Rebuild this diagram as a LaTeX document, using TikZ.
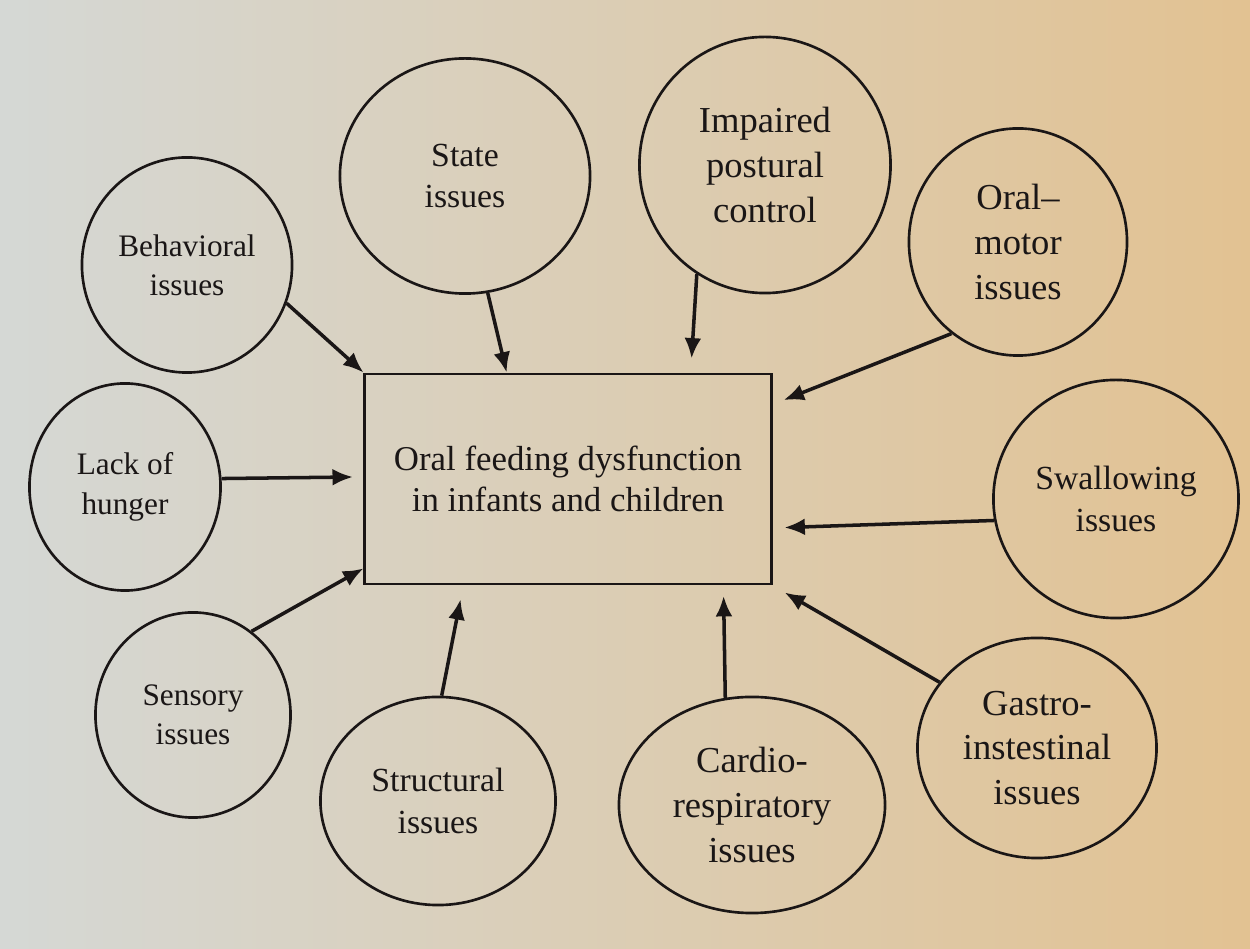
\documentclass[tikz,border=0pt]{standalone}
\usepackage{fontspec}
\setmainfont{Liberation Serif}
\usepackage{tikz}
\usetikzlibrary{arrows.meta}
\usetikzlibrary{shapes.geometric}
\usetikzlibrary{calc}

\definecolor{paperl}{RGB}{213,216,213}
\definecolor{paperm}{RGB}{221,217,206}
\definecolor{paperr}{RGB}{226,194,146}
\definecolor{ink}{RGB}{26,22,22}

\tikzset{
  issue/.style={draw=ink, ellipse, line width=0.75pt, inner sep=0pt, align=center,
    text=ink, font=\fontsize{9.6}{11.8}\selectfont},
  farside/.style={font=\fontsize{8.9}{11.2}\selectfont},
  nearside/.style={font=\fontsize{10.4}{12.7}\selectfont},
  dysbox/.style={draw=ink, line width=0.8pt, minimum width=4.06cm, minimum height=2.10cm,
    align=center, text=ink, font=\fontsize{9.9}{11.6}\selectfont},
  cause/.style={-{Latex[length=5.8pt,width=4.8pt]}, draw=ink, line width=1pt}
}

\begin{document}
\begin{tikzpicture}[x=0.01cm, y=-0.01cm]
    \shade[left color=paperl, middle color=paperm, right color=paperr] (0,0) rectangle (1250,949);
    \node[dysbox] (dys) at (568,479) {Oral feeding dysfunction\\in infants and children};
    \node[issue, farside, minimum width=2.10cm, minimum height=2.15cm] (beh) at (187,265) {Behavioral\\issues};
    \node[issue, minimum width=2.50cm, minimum height=2.35cm] (state) at (465,176) {State\\issues};
    \node[issue, nearside, minimum width=2.51cm, minimum height=2.56cm] (imp) at (765,165) {Impaired\\postural\\control};
    \node[issue, nearside, minimum width=2.18cm, minimum height=2.27cm] (oral) at (1018,242) {Oral--\\motor\\issues};
    \node[issue, minimum width=2.45cm, minimum height=2.38cm] (swal) at (1116,499) {Swallowing\\issues};
    \node[issue, farside, minimum width=1.91cm, minimum height=2.07cm] (lack) at (125,487) {Lack of\\hunger};
    \node[issue, farside, minimum width=1.95cm, minimum height=2.05cm] (sens) at (193,715) {Sensory\\issues};
    \node[issue, minimum width=2.35cm, minimum height=2.08cm] (struc) at (438,801) {Structural\\issues};
    \node[issue, nearside, minimum width=2.66cm, minimum height=2.16cm] (cardio) at (752,805) {Cardio-\\respiratory\\issues};
    \node[issue, nearside, minimum width=2.39cm, minimum height=2.20cm] (gastro) at (1037,748) {Gastro-\\instestinal\\issues};
    \draw[cause] (beh.-21) to (dys.north west);
    \draw[cause] (state.-79) to ($(dys.north west)!0.35!(dys.north east)$);
    \draw[cause, shorten >=4pt] (imp.-122) to ($(dys.north west)!0.80!(dys.north east)$);
    \draw[cause, shorten >=3.4pt] (oral.-126) to ($(dys.north east)!0.15!(dys.south east)$);
    \draw[cause, shorten >=3.4pt] (swal.190) to ($(dys.north east)!0.73!(dys.south east)$);
    \draw[cause, shorten >=3pt] (lack.5) to ($(dys.north west)!0.49!(dys.south west)$);
    \draw[cause] (sens.55) to ($(dys.north west)!0.92!(dys.south west)$);
    \draw[cause, shorten >=4pt] (struc.88) to ($(dys.south west)!0.244!(dys.south east)$);
    \draw[cause, shorten >=3pt] (cardio.104) to ($(dys.south west)!0.88!(dys.south east)$);
    \draw[cause, shorten >=4pt] (gastro.146) to (dys.south east);
\end{tikzpicture}
\end{document}
